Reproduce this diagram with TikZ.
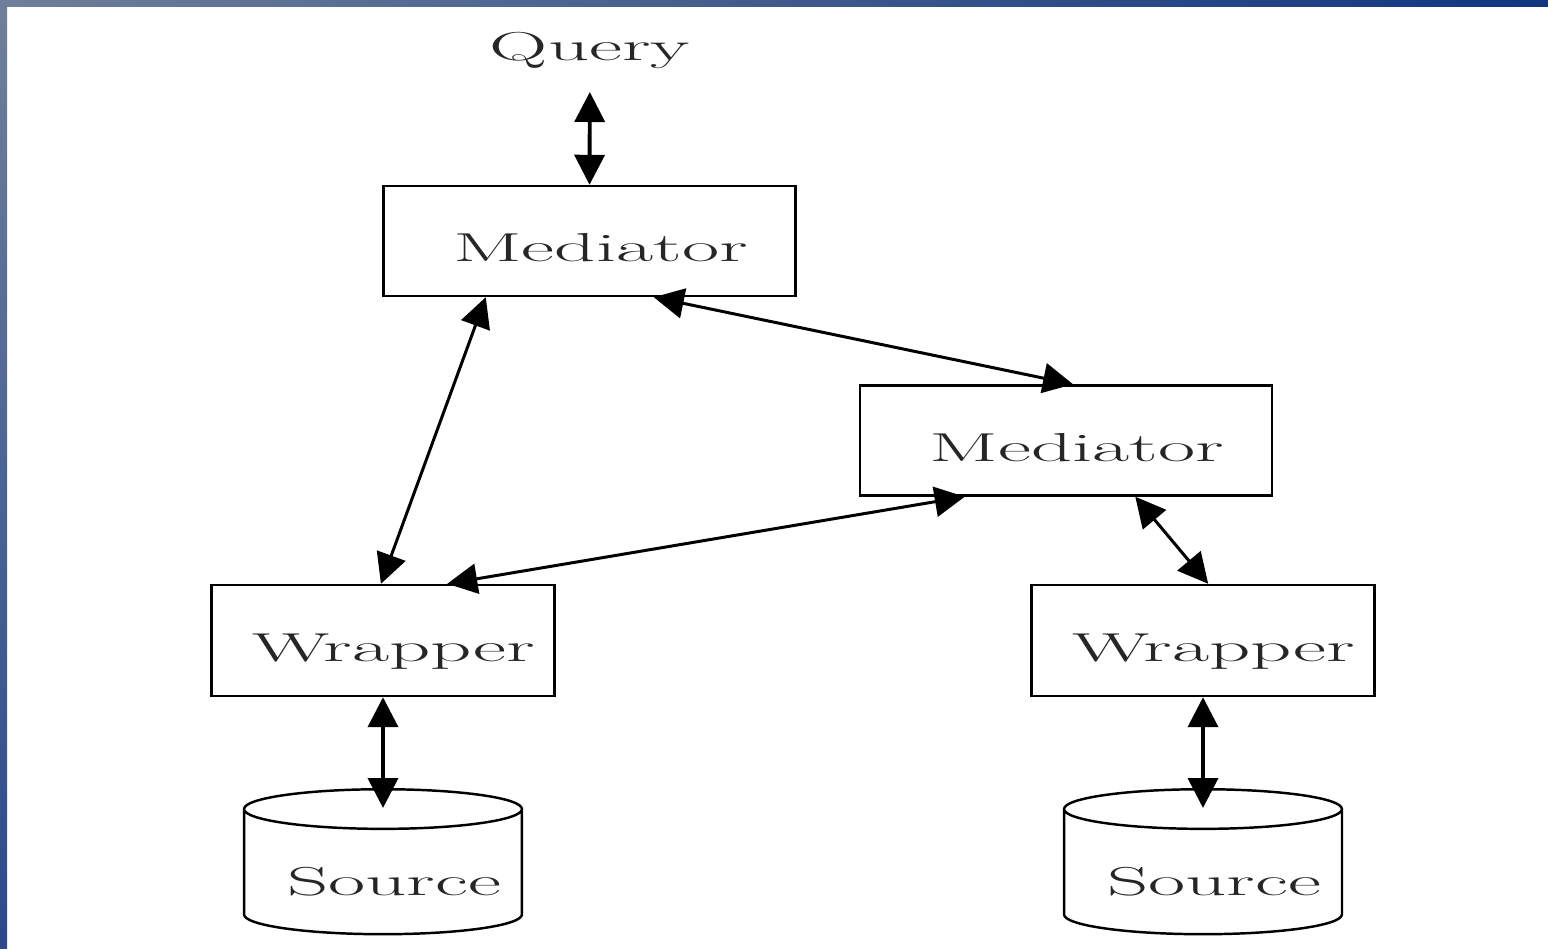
\documentclass[tikz,border=0pt]{standalone}
\usetikzlibrary{arrows.meta,shapes.geometric,calc}

\definecolor{frameLight}{HTML}{6F7F9B}
\definecolor{frameDark}{HTML}{10367F}
\definecolor{frameLow}{HTML}{2A4A8C}
\newcommand{\widetxt}[1]{\scalebox{2}[1]{#1}}
\newcommand{\boxtxt}[1]{\hspace*{0.44cm}\widetxt{#1}}

\begin{document}
\begin{tikzpicture}[x=0.02cm, y=-0.02cm,
  >={Triangle[length=0.6cm, width=0.6cm]},
  label text/.style={font=\fontsize{23}{28}\selectfont, text=black!85, text height=23.7pt, text depth=0pt},
  medbox/.style={draw, line width=1.4pt, label text, minimum width=8.25cm, minimum height=2.2cm},
  wrapbox/.style={draw, line width=1.4pt, label text, minimum width=6.86cm, minimum height=2.22cm},
  srcdb/.style={draw, line width=1.4pt, label text, cylinder, shape border rotate=90, aspect=0.16,
    minimum width=5.56cm, minimum height=2.9cm, anchor=north},
  link/.style={<->, line width=1.7pt},
  vlink/.style={<->, line width=2.2pt}]
  \useasboundingbox (0,0) rectangle (1548,949);

  % Frame
  \fill[white] (0,0) rectangle (1548,949);
  \shade[left color=frameLight, right color=frameDark] (0,0) rectangle (1548,7);
  \shade[top color=frameLight, bottom color=frameLow] (0,0) rectangle (7,949);

  % Nodes
  \node[label text] (query) at (590,40) {\widetxt{Query}};
  \node[medbox] (med1) at (589.5,241) {\boxtxt{Mediator}};
  \node[medbox] (med2) at (1066,440.5) {\boxtxt{Mediator}};
  \node[wrapbox] (wrap1) at (383,640.5) {\boxtxt{Wrapper}};
  \node[wrapbox] (wrap2) at (1203,640.5) {\boxtxt{Wrapper}};
  \node[srcdb] (src1) at (383,788) {\boxtxt{Source}};
  \node[srcdb] (src2) at (1203,788) {\boxtxt{Source}};

  % Links
  \draw[vlink, shorten <=0.5cm] (query) -- (med1.north);
  \draw[link] ($(med1.south west)!0.25!(med1.south east)$) -- ($(wrap1.north west)!0.494!(wrap1.north east)$);
  \draw[link] ($(med1.south west)!0.655!(med1.south east)$) -- ($(med2.north west)!0.517!(med2.north east)$);
  \draw[link] ($(med2.south west)!0.256!(med2.south east)$) -- ($(wrap1.north west)!0.686!(wrap1.north east)$);
  \draw[link] ($(med2.south west)!0.667!(med2.south east)$) -- ($(wrap2.north west)!0.515!(wrap2.north east)$);
  \draw[vlink, shorten >=-0.4cm] (wrap1.south) -- (src1.north);
  \draw[vlink, shorten >=-0.4cm] (wrap2.south) -- (src2.north);
\end{tikzpicture}
\end{document}
